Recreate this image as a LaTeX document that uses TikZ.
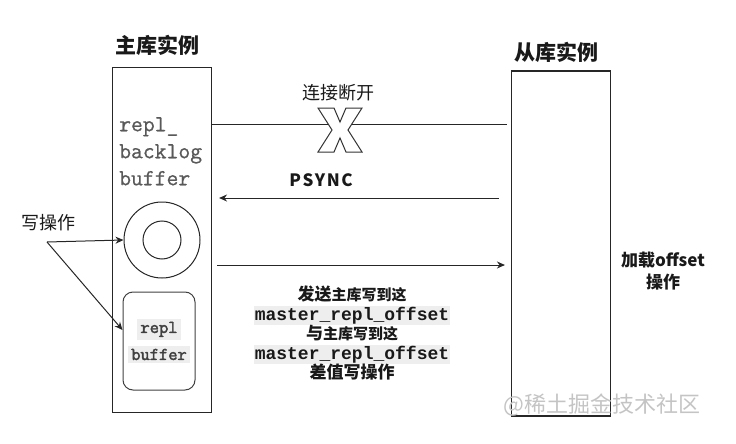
\documentclass[tikz,border=0pt]{standalone}
\usepackage{fontspec}
\newfontfamily\cjk{Noto Sans CJK SC}
\newfontfamily\codefont{Liberation Mono}
\newfontfamily\plainmono{Latin Modern Mono}[FakeBold=0.8]
\newfontfamily\heavymono{Latin Modern Mono}[FakeBold=2.5]
\usepackage{xcolor}
\usetikzlibrary{arrows.meta,positioning}
\definecolor{inkgray}{HTML}{333333}
\definecolor{codebg}{HTML}{EEEEEE}
\definecolor{markgray}{HTML}{C4C4C4}
\newcommand{\codebox}[1]{{\setlength{\fboxsep}{1pt}\colorbox{codebg}{\codefont\bfseries\fontsize{18}{20}\selectfont #1}}}

\begin{document}
\begin{tikzpicture}[
  x=1pt, y=-1pt,
  instance/.style={rectangle, draw=black!85, line width=1.1pt, minimum width=99pt, minimum height=345pt, inner sep=0pt},
  title/.style={font=\cjk\bfseries\fontsize{21}{23}\selectfont, text=black!90},
  label/.style={font=\cjk\fontsize{18}{20}\selectfont, text=black!90},
  backlog/.style={font=\plainmono\fontsize{23}{27}\selectfont, text=black!65, align=left, inner sep=0pt},
  ring/.style={circle, draw=black!85, line width=1pt, inner sep=0pt},
  pipe/.style={draw=black!85, line width=1pt, -{Stealth[length=8pt,width=7pt]}},
  link/.style={draw=black!85, line width=1pt},
  cross/.style={draw=black!80, fill=white, line width=1pt, line join=miter},
]
\useasboundingbox (0,0) rectangle (736,444);

% the two instances
\node[instance] (master) at (162,240) {};
\node[instance] (slave) at (561,243.5) {};
\node[title] (mtitle) at (157.5,45) {主库实例};
\node[title] (stitle) at (556.5,52) {从库实例};

% inside the master
\node[backlog, anchor=north west] (backlog) at (119,117) {repl\_\\backlog\\buffer};
\node[ring, minimum size=76pt] (ring) at (162,240) {};
\node[ring, minimum size=38pt] (core) at (ring) {};
\node[draw=black!75, line width=1pt, rounded corners=10pt, minimum width=72pt, minimum height=98pt,
      align=center, inner sep=0pt, font=\heavymono\fontsize{18}{27}\selectfont, text=black!75] (replbuf) at (159,341)
  {\colorbox{codebg}{repl}\\\colorbox{codebg}{buffer}};

% links between master and slave
\coordinate (cut) at (0,124);
\coordinate (psyncy) at (0,198);
\coordinate (loady) at (0,265);
\draw[link] (master.east |- cut) -- ([xshift=-4pt]slave.west |- cut);
\draw[cross] [shift={(340,130)}] (-22,-22) -- (-6,-22) -- (0,-8) -- (6,-22) -- (22,-22) -- (8,0)
  -- (22,22) -- (6,22) -- (0,8) -- (-6,22) -- (-22,22) -- (-8,0) -- cycle;
\node[label] (cutlbl) at (338,93) {连接断开};

\node[font=\cjk\bfseries\fontsize{17}{19}\selectfont, text=black!90] (psync) at (321,180)
  {P\kern1.5pt S\kern1.5pt Y\kern1.5pt N\kern1.5pt C};
\draw[pipe] ([xshift=-12pt]slave.west |- psyncy) -- ([xshift=7pt]master.east |- psyncy);

\draw[pipe] ([xshift=5pt]master.east |- loady) -- ([xshift=-6pt]slave.west |- loady);
\node[align=center, text=black!90, font=\cjk\bfseries\fontsize{15}{19.5}\selectfont] (offtxt) at (352,333)
  {{\fontsize{17}{19.5}\selectfont 发送}主库写到这\\
   \codebox{master\_repl\_offset}\\
   {\fontsize{17}{19.5}\selectfont 与}主库写到这\\
   \codebox{master\_repl\_offset}\\
   {\fontsize{17}{19.5}\selectfont 差值写操作}};

% write op
\node[label] (wlbl) at (48,223) {写操作};
\coordinate (wr) at (47,242);
\draw[pipe] (wr) -- (ring.west);
\draw[pipe] (wr) -- ([yshift=11pt]replbuf.west);

% slave side
\node[align=center, text=black!90, font=\cjk\bfseries\fontsize{17}{22}\selectfont] (loadlbl) at (663,271) {加载offset\\操作};
\node[text=markgray, font=\cjk\fontsize{22}{24}\selectfont] (mark) at (602,405) {@稀土掘金技术社区};
\end{tikzpicture}
\end{document}
